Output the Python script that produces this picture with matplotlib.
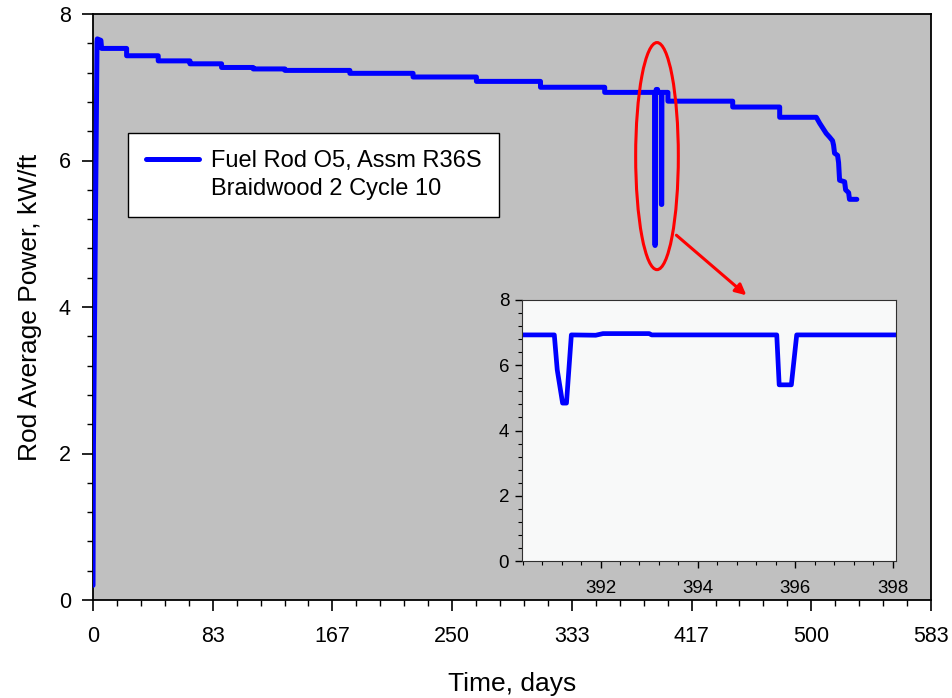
import numpy as np
import matplotlib
matplotlib.use("Agg")
import matplotlib.pyplot as plt
from matplotlib.patches import Ellipse
from matplotlib.ticker import MultipleLocator, FixedLocator

plt.rcParams['font.family'] = ['Liberation Sans', 'DejaVu Sans']

# ---- data ----
ramp_t = [0.0, 0.3, 2.8, 3.0, 5.5]
ramp_p = [0.2, 2.1, 7.62, 7.66, 7.64]

step1_start = [6.0, 23.4, 45.4, 67.5, 89.5, 111.5, 133.6, 178.8, 222.8, 266.9, 311.5, 356.2]
step1_level = [7.53, 7.43, 7.36, 7.32, 7.27, 7.25, 7.23, 7.19, 7.14, 7.08, 7.00, 6.93]

dip_t = [391.05, 391.11, 391.22, 391.30, 391.40, 391.90, 392.05, 393.00, 393.05,
         395.62, 395.67, 395.92, 396.03]
dip_p = [6.93, 5.86, 4.84, 4.84, 6.93, 6.92, 6.97, 6.97, 6.93,
         6.93, 5.40, 5.40, 6.93]

step2_start = [400.2, 445.3, 478.0]
step2_level = [6.81, 6.73, 6.59]

tail_t = [503.5, 505.8, 508.1, 510.4, 512.7, 514.8, 515.5, 516.2, 518.3, 519.0,
          519.7, 523.2, 523.9, 526.0, 526.6, 531.7]
tail_p = [6.59, 6.51, 6.44, 6.37, 6.32, 6.27, 6.21, 6.10, 6.07, 5.97,
          5.73, 5.71, 5.60, 5.56, 5.47, 5.47]

xtick_vals = [0, 83.333, 166.667, 250, 333.333, 416.667, 500, 583.333]
xtick_labels = ['0', '83', '167', '250', '333', '417', '500', '583']
inset_xticks = [392, 394, 396, 398]
legend_line1 = 'Fuel Rod O5, Assm R36S'
legend_line2 = 'Braidwood 2 Cycle 10'


def steps(starts, levels, end):
    t, p = [], []
    bounds = list(starts) + [end]
    for i, lv in enumerate(levels):
        t += [bounds[i], bounds[i + 1]]
        p += [lv, lv]
    return t, p


s1t, s1p = steps(step1_start, step1_level, dip_t[0])
s2t, s2p = steps(step2_start, step2_level, tail_t[0])
time = np.array(ramp_t + s1t + dip_t + [step2_start[0]] + s2t + tail_t)
power = np.array(ramp_p + s1p + dip_p + [dip_p[-1]] + s2p + tail_p)

W, H = 952, 698
fig = plt.figure(figsize=(W / 100, H / 100), dpi=100)
fig.patch.set_facecolor('white')

ax = fig.add_axes([93 / W, 1 - 600 / H, 838 / W, 586 / H])
ax.set_facecolor('#c0c0c0')
ax.plot(time, power, color='#0000ff', lw=3.6, solid_capstyle='round',
        solid_joinstyle='round', label=legend_line1, zorder=3)
ax.plot([], [], color='none', label=legend_line2)
ax.set_xlim(0, 583.333)
ax.set_ylim(0, 8)
ax.xaxis.set_major_locator(FixedLocator(xtick_vals))
ax.set_xticklabels(xtick_labels)
ax.xaxis.set_minor_locator(MultipleLocator(583.333 / 35))
ax.yaxis.set_major_locator(MultipleLocator(2))
ax.yaxis.set_minor_locator(MultipleLocator(0.4))
ax.tick_params(which='major', direction='out', length=8, width=1.2, labelsize=15.5, pad=8)
ax.tick_params(axis='x', which='major', pad=11)
ax.tick_params(which='minor', direction='out', length=4, width=1.0)
for s in ax.spines.values():
    s.set_linewidth(1.3)
    s.set_color('black')
ax.set_xlabel('Time, days', fontsize=19, labelpad=18)
ax.set_ylabel('Rod Average Power, kW/ft', fontsize=19, labelpad=12)

leg = ax.legend(loc='upper left', bbox_to_anchor=(128.3 / W, 1 - 132.7 / H),
                bbox_transform=fig.transFigure, fontsize=17, frameon=True,
                fancybox=False, edgecolor='black', framealpha=1,
                handlelength=2.25, borderpad=0.75, handletextpad=0.5,
                labelspacing=0.22, borderaxespad=0)
leg.get_frame().set_linewidth(1.0)

# red ellipse and arrow
ell = Ellipse((392.6, 6.06), width=29.7, height=3.10, fill=False,
              edgecolor='red', lw=2.2, zorder=4)
ax.add_patch(ell)
ax.annotate('', xy=(454.8, 4.16), xytext=(406.1, 4.98),
            arrowprops=dict(arrowstyle='-|>', color='red', lw=2.2,
                            mutation_scale=16, shrinkA=0, shrinkB=0), zorder=4)

# inset
axi = fig.add_axes([521.7 / W, 1 - 561 / H, (896 - 521.7) / W, 261 / H])
axi.set_facecolor('#f8f9f9')
axi.plot(time, power, color='#0000ff', lw=3.4, solid_capstyle='round',
         solid_joinstyle='round', clip_on=True)
axi.set_xlim(390.38, 398.07)
axi.set_ylim(0, 8)
axi.xaxis.set_major_locator(FixedLocator(inset_xticks))
axi.xaxis.set_minor_locator(MultipleLocator(0.4))
axi.yaxis.set_major_locator(MultipleLocator(2))
axi.yaxis.set_minor_locator(MultipleLocator(0.4))
axi.tick_params(which='major', direction='out', length=5, width=1.0, labelsize=13.5, pad=4)
axi.tick_params(axis='x', which='major', pad=9)
axi.tick_params(which='minor', direction='out', length=3, width=0.8)
for s in axi.spines.values():
    s.set_linewidth(0.8)
    s.set_color('#303030')

fig.savefig('out.png', dpi=100)
